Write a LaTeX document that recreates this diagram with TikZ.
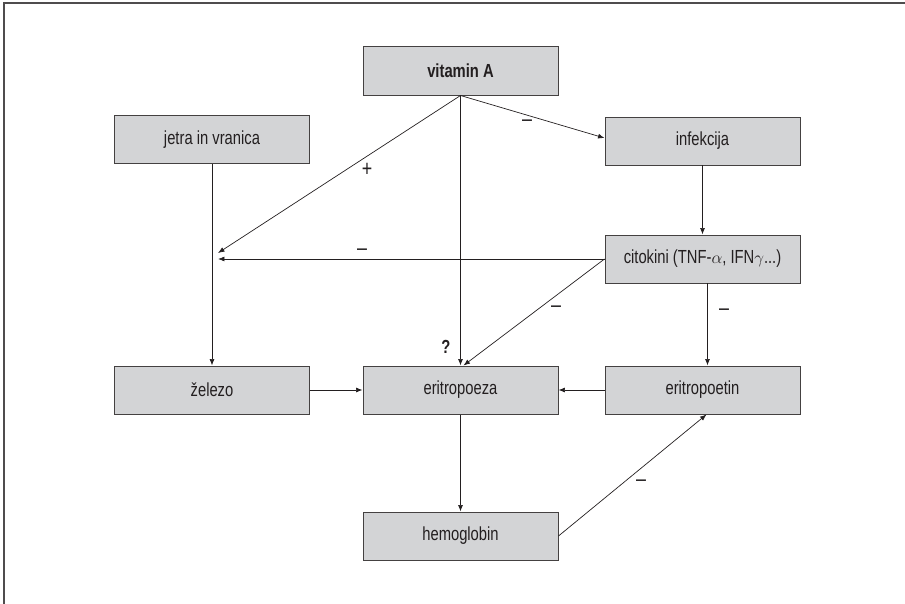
\documentclass[tikz,border=0pt]{standalone}
\usepackage{fontspec}
\setmainfont[FakeStretch=0.78]{Liberation Sans}
\usepackage{tikz}
\usetikzlibrary{arrows.meta}
\definecolor{boxgray}{RGB}{211,212,214}
\definecolor{ink}{RGB}{35,31,32}
\tikzset{
    box/.style={draw=ink!85, fill=boxgray, line width=1pt, minimum width=195bp, minimum height=48bp, inner sep=0pt, text=ink},
    pot/.style={draw=ink, line width=0.7pt, -{Latex[length=6.5pt,width=5pt]}},
    sign/.style={text=ink, inner sep=0pt, font=\fontsize{23}{24}\selectfont},
    frame/.style={draw=ink!80, line width=1.6pt},
}

\begin{document}
\begin{tikzpicture}[x=1bp, y=-1bp, font=\fontsize{19}{22}\selectfont]
	\useasboundingbox (0,0) rectangle (905,604);
	\draw[frame] (4,604) -- (4,3) -- (905,3);
	% boxes
	\node[box] (vitA) at (460.5,71) {\bfseries vitamin A};
	\node[box] (jetra) at (212,139.5) {jetra in vranica};
	\node[box] (infek) at (702.5,141) {infekcija};
	\node[box] (citok) at (702.5,259) {citokini (TNF-$\alpha$, IFN$\gamma$...)};
	\node[box] (zelezo) at (212,390) {železo};
	\node[box] (eritro) at (460.5,390) {eritropoeza};
	\node[box] (epo) at (702.5,390) {eritropoetin};
	\node[box] (hemo) at (460.5,536) {hemoglobin};
	\coordinate (tockaA) at (218,253);
	\coordinate (tockaB) at (218,259);
	% connectors
	\draw[pot] (vitA.south) -- (tockaA);
	\draw[pot] (vitA.south) -- (eritro.north);
	\draw[pot] (vitA.south) -- ([yshift=3pt]infek.west);
	\draw[pot] (infek.south) -- (citok.north);
	\draw[pot] (citok.west) -- (tockaB);
	\draw[pot] (citok.west) -- ([xshift=3pt]eritro.north);
	\draw[pot] ([xshift=5pt]citok.south) -- ([xshift=5pt]epo.north);
	\draw[pot] (jetra.south) -- (jetra.south |- zelezo.north);
	\draw[pot] (zelezo.east) -- (eritro.west);
	\draw[pot] (epo.west) -- (eritro.east);
	\draw[pot] (eritro.south) -- (hemo.north);
	\draw[pot] (hemo.east) -- ([xshift=4pt]epo.south);
	% signs
	\node[sign] (plusA) at (367,170) {+};
	\node[sign] (minA) at (527,123) {--};
	\node[sign] (minB) at (362,252) {--};
	\node[sign] (minC) at (556,309) {--};
	\node[sign] (minD) at (724,312) {--};
	\node[sign] (minE) at (641,483) {--};
	\node[sign, font=\fontsize{19}{22}\selectfont] (vpr) at (446,347) {\bfseries ?};
\end{tikzpicture}
\end{document}
